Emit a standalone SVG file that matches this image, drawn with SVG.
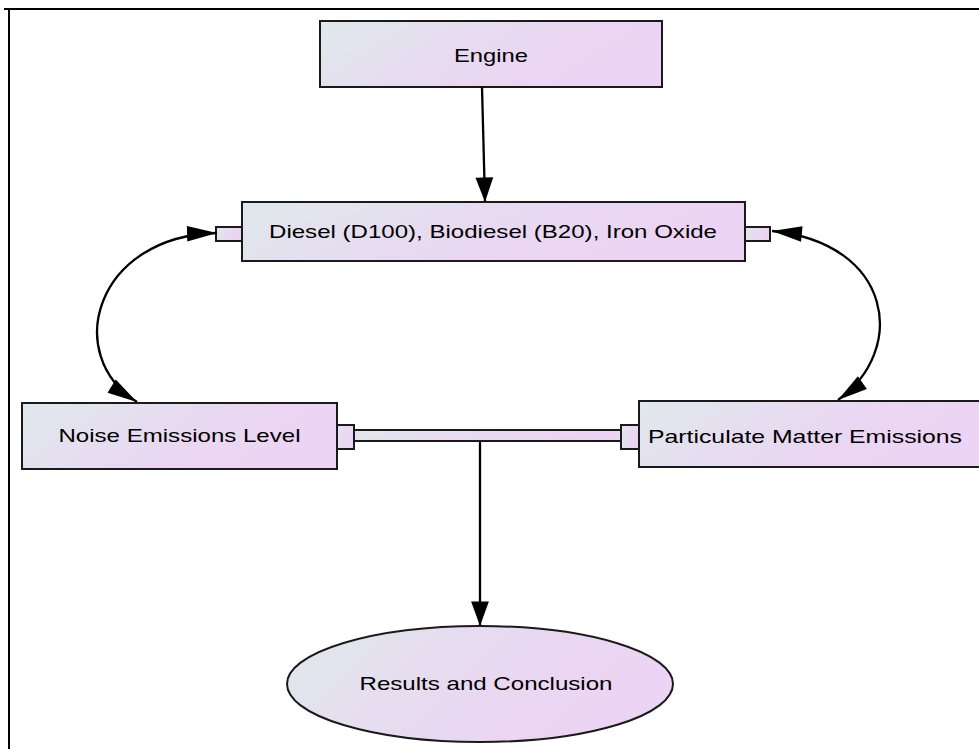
<svg xmlns="http://www.w3.org/2000/svg" width="979" height="749" viewBox="0 0 979 749">
<defs>
<linearGradient id="g" x1="0" y1="0" x2="1" y2="0.3">
<stop offset="0" stop-color="#dfe9ec"/>
<stop offset="0.6" stop-color="#e9d8f1"/>
<stop offset="1" stop-color="#ecd4f4"/>
</linearGradient>
<marker id="ah" markerUnits="userSpaceOnUse" markerWidth="30" markerHeight="20" viewBox="-23 -9 24 18" refX="0" refY="0" orient="auto-start-reverse">
<path d="M0,0 L-22,-8 L-22,8 Z" fill="#000"/>
</marker>
<marker id="ac" markerUnits="userSpaceOnUse" markerWidth="32" markerHeight="20" viewBox="-30 -8 31 16" refX="0" refY="0" orient="auto-start-reverse">
<path d="M0,0 L-29,-7.5 L-29,7.5 Z" fill="#000"/>
</marker>
</defs>
<style>
.box{fill:url(#g);stroke:#1a1a1a;stroke-width:2}
.lbl{font-family:"Liberation Sans",Arial,sans-serif;font-size:19px;fill:#000;text-anchor:middle}
.edge{fill:none;stroke:#000;stroke-width:2.3}
</style>
<rect width="979" height="749" fill="#fff"/>
<g id="frame"><path d="M4,9 H979 M9,9 V749" fill="none" stroke="#000" stroke-width="2"/></g>
<g id="engine"><rect class="box" x="320" y="21" width="342" height="66"/><text class="lbl" x="491" y="62" textLength="74" lengthAdjust="spacingAndGlyphs">Engine</text></g>
<g id="fuels"><rect class="box" x="242" y="202" width="503" height="59"/><rect class="box" x="216" y="227" width="26" height="14"/><rect class="box" x="745" y="227" width="25" height="14"/><text class="lbl" x="493" y="238" textLength="448" lengthAdjust="spacingAndGlyphs">Diesel (D100), Biodiesel (B20), Iron Oxide</text></g>
<g id="noise"><rect class="box" x="22" y="403" width="315" height="66"/><rect class="box" x="337" y="425" width="17" height="24"/><text class="lbl" x="179.5" y="442" textLength="242" lengthAdjust="spacingAndGlyphs">Noise Emissions Level</text></g>
<g id="pm"><rect class="box" x="639" y="401" width="345" height="66"/><rect class="box" x="621" y="425" width="18" height="24"/><text class="lbl" x="805" y="443" textLength="314" lengthAdjust="spacingAndGlyphs">Particulate Matter Emissions</text></g>
<g id="results"><ellipse class="box" cx="480" cy="684" rx="193" ry="58"/><text class="lbl" x="486" y="690" textLength="253" lengthAdjust="spacingAndGlyphs">Results and Conclusion</text></g>
<g id="connectors">
<rect class="box" x="354" y="430" width="267" height="11"/>
<path class="edge" d="M482,87 L485,202" marker-end="url(#ah)"/>
<path class="edge" d="M480,441 L480,626" marker-end="url(#ah)"/>
<path class="edge" d="M217,233 C95,236 62,355 137,402" marker-start="url(#ac)" marker-end="url(#ac)"/>
<path class="edge" d="M772,231 C893,243 908,350 838,400" marker-start="url(#ac)" marker-end="url(#ac)"/>
</g>
</svg>
